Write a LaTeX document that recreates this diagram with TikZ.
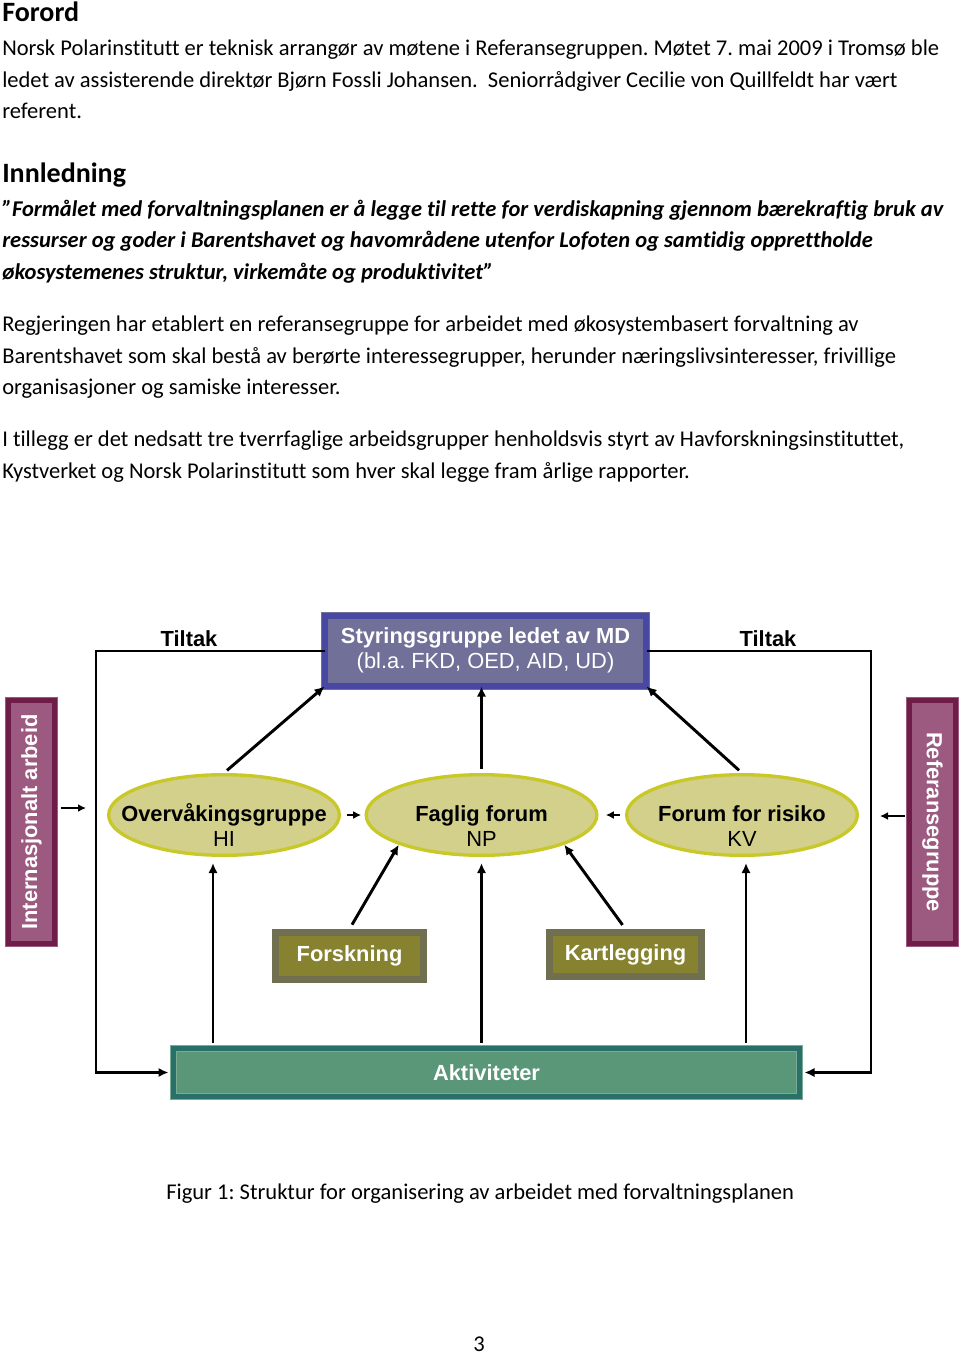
\documentclass[tikz,border=0pt]{standalone}
\usepackage{fontspec}
\setmainfont{Carlito}[Ligatures=NoCommon]
\newfontfamily\arialf{Liberation Sans}
\usetikzlibrary{arrows.meta,calc,shapes.geometric}
\frenchspacing

\definecolor{stygrey}{RGB}{112,112,152}
\definecolor{styblue}{RGB}{72,72,162}
\definecolor{intfill}{RGB}{156,90,128}
\definecolor{intbord}{RGB}{112,28,72}
\definecolor{ellfill}{RGB}{210,208,138}
\definecolor{ellbord}{RGB}{200,200,40}
\definecolor{forfill}{RGB}{134,130,48}
\definecolor{forbord}{RGB}{112,112,80}
\definecolor{aktfill}{RGB}{90,150,120}
\definecolor{aktbord}{RGB}{40,112,104}

\newcommand{\boxtxt}[3]{\makebox[0pt]{\raisebox{#1}[0pt][0pt]{\begin{tabular}[t]{@{}c@{}}\textbf{#2}\\#3\end{tabular}}}}

\tikzset{
	bodytxt/.style={anchor=base west, inner sep=0pt, font=\fontsize{16.9}{20}\selectfont},
	headtxt/.style={anchor=base west, inner sep=0pt, font=\fontsize{21}{24}\selectfont\bfseries},
	quotetxt/.style={anchor=base west, inner sep=0pt, font=\fontsize{16.9}{20}\selectfont\bfseries\itshape},
	diafont/.style={font=\arialf\fontsize{16.4}{18.75}\selectfont},
	stybox/.style={diafont, rectangle, fill=stygrey, draw=stygrey, double=styblue, double distance=4.5pt, line width=0.75pt, inner sep=0pt, text=white, minimum width=240.75pt, minimum height=52.5pt},
	intbox/.style={diafont, font=\arialf\fontsize{16.4}{18.75}\selectfont\bfseries, rectangle, fill=intfill, draw=intfill, double=intbord, double distance=4pt, line width=0.75pt, text=white, minimum width=182pt, minimum height=34.25pt},
	ellnode/.style={diafont, ellipse, fill=ellfill, draw=ellbord, line width=2.5pt, inner sep=0pt, minimum width=173pt, minimum height=60.5pt},
	forbox/.style={diafont, font=\arialf\fontsize{16.4}{18.75}\selectfont\bfseries, rectangle, fill=forfill, draw=forbord, line width=5pt, text=white},
	aktbox/.style={diafont, font=\arialf\fontsize{16.4}{18.75}\selectfont\bfseries, rectangle, fill=aktfill, draw=aktfill!80!white, double=aktbord, double distance=4pt, line width=0.75pt, text=white, minimum width=469.25pt, minimum height=35.75pt},
	tiltak/.style={diafont, font=\arialf\fontsize{16.4}{18.75}\selectfont\bfseries, inner sep=0pt},
	arr/.style={-{Latex[length=7.5pt,width=7pt]}, line width=2.2pt},
	sarr/.style={-{Latex[length=6pt,width=6pt]}, line width=2.2pt}
}

\begin{document}
\begin{tikzpicture}[x=0.75pt,y=-0.75pt]
			%%%%% START %%%%%
			
			\fill[white] (0,0) rectangle (960,1359);
			\useasboundingbox (0,0) rectangle (960,1359);
			
			\node[headtxt] (forord) at (2,22) {Forord};
			\node[bodytxt] (fo1) at (2,56) {Norsk Polarinstitutt er teknisk arrangør av møtene i Referansegruppen. Møtet 7. mai 2009 i Tromsø ble};
			\node[bodytxt] (fo2) at (2,88) {ledet av assisterende direktør Bjørn Fossli Johansen.\ \ Seniorrådgiver Cecilie von Quillfeldt har vært};
			\node[bodytxt] (fo3) at (2,119) {referent.};
			
			\node[headtxt] (innl) at (2,182) {Innledning};
			\node[quotetxt] (in1) at (2,216) {”Formålet med forvaltningsplanen er å legge til rette for verdiskapning gjennom bærekraftig bruk av};
			\node[quotetxt] (in2) at (2,247) {ressurser og goder i Barentshavet og havområdene utenfor Lofoten og samtidig opprettholde};
			\node[quotetxt] (in3) at (2,279) {økosystemenes struktur, virkemåte og produktivitet”};
			
			\node[bodytxt] (re1) at (2,331) {Regjeringen har etablert en referansegruppe for arbeidet med økosystembasert forvaltning av};
			\node[bodytxt] (re2) at (2,363) {Barentshavet som skal bestå av berørte interessegrupper, herunder næringslivsinteresser, frivillige};
			\node[bodytxt] (re3) at (2,394) {organisasjoner og samiske interesser.};
			
			\node[bodytxt] (ti1) at (2,446) {I tillegg er det nedsatt tre tverrfaglige arbeidsgrupper henholdsvis styrt av Havforskningsinstituttet,};
			\node[bodytxt] (ti2) at (2,478) {Kystverket og Norsk Polarinstitutt som hver skal legge fram årlige rapporter.};
			
			% diagram
			\node[stybox] (styr) at (485.5,651) {\boxtxt{6pt}{Styringsgruppe ledet av MD}{(bl.a. FKD, OED, AID, UD)}};
			\node[tiltak] (tilv) at (189,639) {Tiltak};
			\node[tiltak] (tilh) at (768,639) {Tiltak};
			
			\node[intbox, rotate=90] (intl) at (31.5,822) {Internasjonalt arbeid};
			\node[intbox, rotate=-90] (refg) at (932.5,822) {Referansegruppe};
			
			\node[ellnode] (ovr) at (224,815) {\boxtxt{-4.5pt}{Overvåkingsgruppe}{HI}};
			\node[ellnode] (fag) at (481.5,815) {\boxtxt{-4.5pt}{Faglig forum}{NP}};
			\node[ellnode] (frisk) at (742,815) {\boxtxt{-4.5pt}{Forum for risiko}{KV}};
			
			\node[forbox, minimum width=111.25pt, minimum height=35.5pt] (forsk) at (349.5,956) {Forskning};
			\node[forbox, minimum width=114.25pt, minimum height=33.25pt] (kart) at (625.5,954.5) {Kartlegging};
			
			\node[aktbox] (akt) at (486.5,1072.5) {Aktiviteter};
			
			% Tiltak lines
			\coordinate (lcorn) at (96,1072.5);
			\coordinate (rcorn) at (871,1072.5);
			\draw[arr, shorten >=3.5pt] (styr.west) -| (lcorn) -- (akt.west);
			\draw[arr, shorten >=3.5pt] (styr.east) -| (rcorn) -- (akt.east);
			
			% up to styringsgruppe
			\draw[arr, shorten <=3pt] (ovr.north) -- (styr.south west);
			\draw[arr, shorten <=3pt] (fag.north) -- (fag.north |- styr.south);
			\draw[arr, shorten <=3pt] (frisk.north) -- (styr.south east);
			
			% side arrows
			\draw[sarr, shorten <=4.5pt, shorten >=15.75pt] ([yshift=10.5pt]intl.south) -- ([yshift=10.5pt]intl.south -| ovr.west);
			\draw[sarr, shorten <=3pt, shorten >=15.75pt] ([yshift=4.5pt]refg.south) -- ([yshift=4.5pt]refg.south -| frisk.east);
			\draw[sarr, shorten <=4.5pt, shorten >=2.5pt] (ovr.east) -- (fag.west);
			\draw[sarr, shorten <=3.75pt, shorten >=5.5pt] (frisk.west) -- (fag.east);
			
			% from forskning and kartlegging
			\draw[arr, shorten <=3.75pt] (forsk.north) -- (fag.south west);
			\draw[arr, shorten <=3.75pt] (kart.north) -- (fag.south east);
			
			% from aktiviteter
			\coordinate (ovrb) at ($(ovr.south)+(-11,0)$);
			\coordinate (friskb) at ($(frisk.south)+(4,0)$);
			\draw[arr, shorten <=3.75pt, shorten >=4.5pt] (ovrb |- akt.north) -- (ovrb);
			\draw[arr, shorten <=3.75pt, shorten >=4.5pt] (fag.south |- akt.north) -- (fag.south);
			\draw[arr, shorten <=3.75pt, shorten >=4.5pt] (friskb |- akt.north) -- (friskb);
			
			\node[bodytxt] (figcap) at (166,1199) {Figur 1: Struktur for organisering av arbeidet med forvaltningsplanen};
			\node[bodytxt, anchor=base] (pnum) at (479,1351) {3};
			
			%%%%% END %%%%%
\end{tikzpicture}
\end{document}
